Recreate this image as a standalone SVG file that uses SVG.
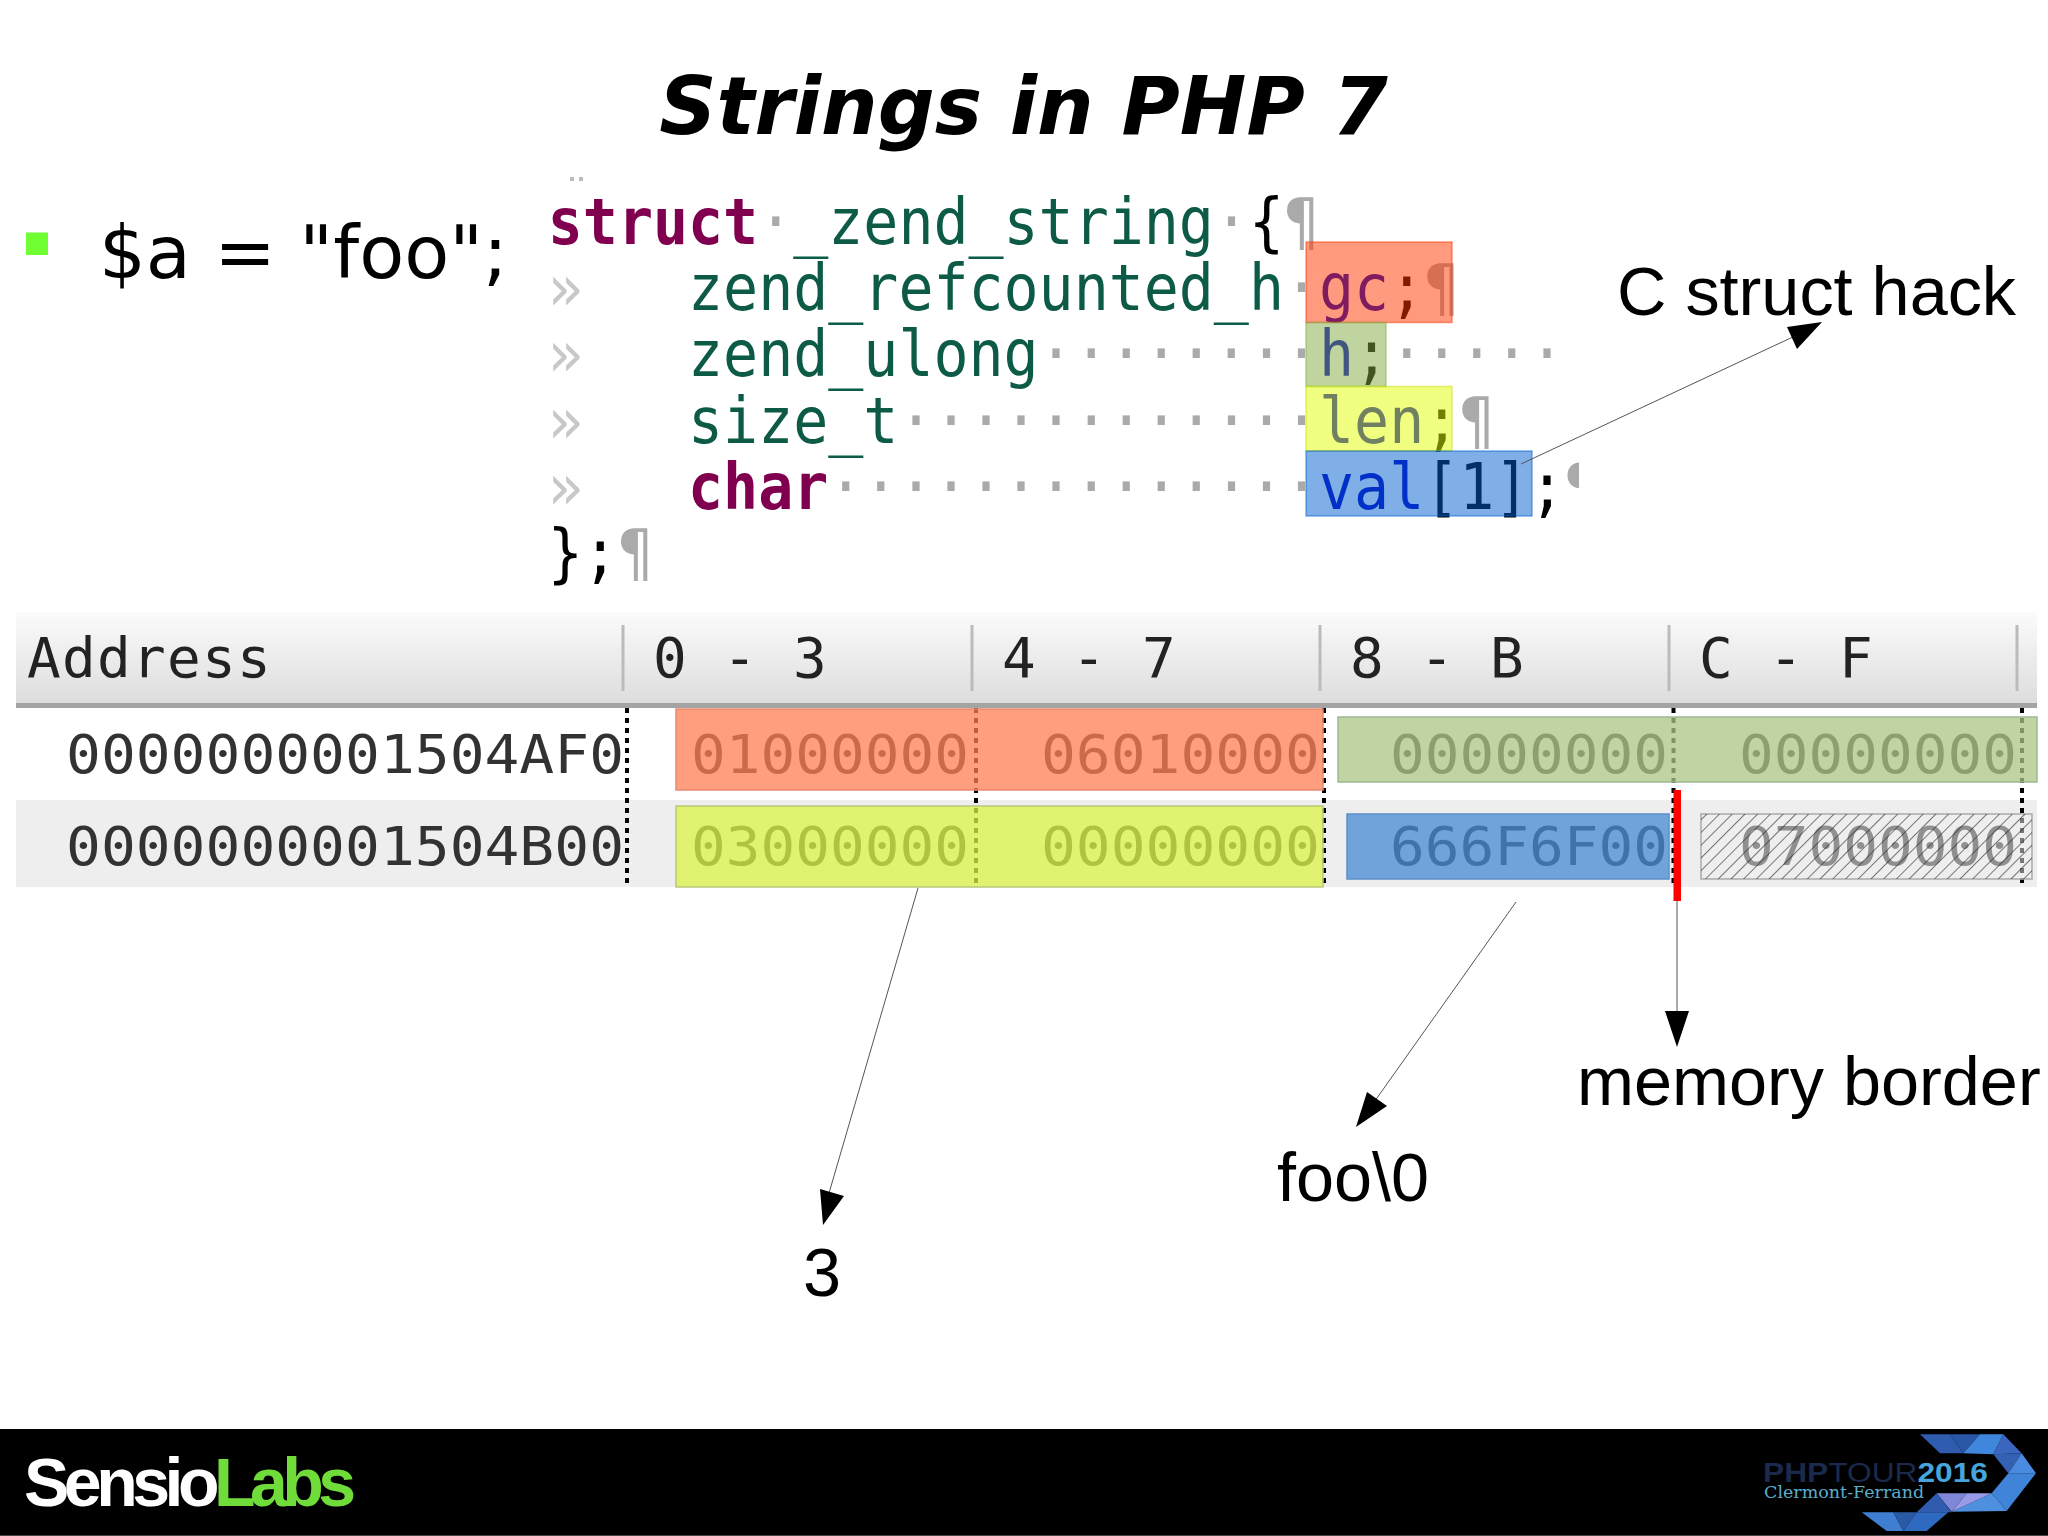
<svg xmlns="http://www.w3.org/2000/svg" width="2048" height="1536" viewBox="0 0 2048 1536">
<style>
.code{font-family:"DejaVu Sans Mono",monospace;font-size:64px;white-space:pre}
.kw{fill:#800050;font-weight:bold}.ty{fill:#0a5a46}.fl{fill:#0000c0}.bl{fill:#000}.ws{fill:#aaa}.mk{fill:#c8c8c8}
.hd{font-family:"DejaVu Sans Mono",monospace;font-size:56px;letter-spacing:1.3px;fill:#222;white-space:pre}
.addr{font-family:"DejaVu Sans Mono",monospace;font-size:54px;fill:#333}
.lab{font-family:"Liberation Sans",Arial,sans-serif;font-size:68.4px;fill:#000}
.sep{stroke:#bbb;stroke-width:3}
.dot{stroke:#000;stroke-width:4;stroke-dasharray:5 5}
.arr{stroke:#555;stroke-width:1;fill:none}
.head{fill:#000}
</style>
<defs>
<linearGradient id="hdr" x1="0" y1="0" x2="0" y2="1"><stop offset="0" stop-color="#fbfbfb"/><stop offset="1" stop-color="#dddddd"/></linearGradient>
<pattern id="hatch" width="9" height="9" patternUnits="userSpaceOnUse" patternTransform="rotate(45)"><line x1="0" y1="0" x2="0" y2="9" stroke="#222" stroke-width="1.2"/></pattern>
<clipPath id="cl"><rect x="500" y="160" width="1079" height="430"/></clipPath>
<filter id="soft" x="-2%" y="-2%" width="104%" height="104%"><feGaussianBlur stdDeviation="0.7"/></filter>
</defs>
<rect width="2048" height="1536" fill="#fff"/>
<text x="1023.5" y="134" text-anchor="middle" font-family="'DejaVu Sans',sans-serif" font-size="79.6" font-weight="bold" font-style="italic" fill="#000">Strings in PHP 7</text>
<g id="bullet">
<rect x="26" y="232.5" width="22" height="22.5" fill="#6fff33"/>
<text x="99" y="278" font-family="'DejaVu Sans',sans-serif" font-size="73.6" fill="#000">$a = "foo";</text>
</g>
<g id="code" clip-path="url(#cl)">
<g filter="url(#soft)">
<rect x="570" y="177" width="4" height="4" fill="#bbb"/><rect x="579" y="177" width="4" height="4" fill="#bbb"/>
<g transform="scale(0.91,1)">
<text class="code" x="602" y="244"><tspan class="kw">struct</tspan><tspan class="ws">·</tspan><tspan class="ty">_zend_string</tspan><tspan class="ws">·</tspan><tspan class="bl">{</tspan><tspan class="ws">¶</tspan></text>
<text class="code" x="602" y="310"><tspan class="mk">»   </tspan><tspan class="ty">zend_refcounted_h</tspan><tspan class="ws">·</tspan><tspan class="fl">gc</tspan><tspan class="bl">;</tspan><tspan class="ws">¶</tspan></text>
<text class="code" x="602" y="376"><tspan class="mk">»   </tspan><tspan class="ty">zend_ulong</tspan><tspan class="ws">········</tspan><tspan class="fl">h</tspan><tspan class="bl">;</tspan><tspan class="ws">·····</tspan></text>
<text class="code" x="602" y="443"><tspan class="mk">»   </tspan><tspan class="ty">size_t</tspan><tspan class="ws">············</tspan><tspan class="fl">len</tspan><tspan class="bl">;</tspan><tspan class="ws">¶</tspan></text>
<text class="code" x="602" y="509"><tspan class="mk">»   </tspan><tspan class="kw">char</tspan><tspan class="ws">··············</tspan><tspan class="fl">val</tspan><tspan class="bl">[1];</tspan><tspan class="ws">¶</tspan></text>
<text class="code" x="602" y="575"><tspan class="bl">};</tspan><tspan class="ws">¶</tspan></text>
</g>
</g>
</g>
<g id="code-highlights" fill-opacity="0.5" stroke-opacity="0.5" stroke-width="1.5">
<rect x="1306" y="242" width="146" height="80.5" fill="#ff3500" stroke="#ff3500"/>
<rect x="1306" y="322.5" width="80" height="64" fill="#81a941" stroke="#81a941"/>
<rect x="1306" y="386.5" width="146" height="64.5" fill="#e1ff00" stroke="#c8e000"/>
<rect x="1306" y="451" width="226" height="65" fill="#005fcd" stroke="#005fcd"/>
</g>
<g id="table">
<rect x="16" y="612" width="2021" height="91" fill="url(#hdr)"/>
<rect x="16" y="703" width="2021" height="5" fill="#a4a4a4"/>
<rect x="16" y="800" width="2021" height="87" fill="#eeeeee"/>
<line class="sep" x1="623" y1="625" x2="623" y2="691"/><line class="sep" x1="972" y1="625" x2="972" y2="691"/><line class="sep" x1="1320" y1="625" x2="1320" y2="691"/><line class="sep" x1="1669" y1="625" x2="1669" y2="691"/><line class="sep" x1="2017" y1="625" x2="2017" y2="691"/>
<g filter="url(#soft)">
<text class="hd" x="27" y="677">Address</text>
<text class="hd" x="653" y="677">0 - 3</text>
<text class="hd" x="1002" y="677">4 - 7</text>
<text class="hd" x="1350" y="677">8 - B</text>
<text class="hd" x="1699" y="677">C - F</text>
</g>
<line class="dot" x1="627" y1="708" x2="627" y2="887"/><line class="dot" x1="976" y1="708" x2="976" y2="887"/><line class="dot" x1="1324" y1="708" x2="1324" y2="887"/><line class="dot" x1="1673.5" y1="708" x2="1673.5" y2="887"/><line class="dot" x1="2022" y1="708" x2="2022" y2="887"/>
<g class="addr" filter="url(#soft)">
<text x="66" y="773" textLength="558" lengthAdjust="spacingAndGlyphs">0000000001504AF0</text>
<text x="66" y="865" textLength="558" lengthAdjust="spacingAndGlyphs">0000000001504B00</text>
<text x="691" y="773" textLength="278" lengthAdjust="spacingAndGlyphs">01000000</text>
<text x="1041" y="773" textLength="279" lengthAdjust="spacingAndGlyphs">06010000</text>
<text x="1390" y="773" textLength="278" lengthAdjust="spacingAndGlyphs">00000000</text>
<text x="1739" y="773" textLength="278" lengthAdjust="spacingAndGlyphs">00000000</text>
<text x="691" y="865" textLength="278" lengthAdjust="spacingAndGlyphs">03000000</text>
<text x="1041" y="865" textLength="279" lengthAdjust="spacingAndGlyphs">00000000</text>
<text x="1390" y="865" textLength="278" lengthAdjust="spacingAndGlyphs">666F6F00</text>
<text x="1739" y="865" textLength="278" lengthAdjust="spacingAndGlyphs">07000000</text>
</g>
<g id="table-highlights" fill-opacity="0.75" stroke-width="1.5">
<rect x="676" y="709" width="647" height="81" fill="#ff7d53" stroke="#e88a70"/>
<rect x="676" y="806" width="647" height="81" fill="#dcf347" stroke="#b8c878"/>
<rect x="1338" y="717" width="699" height="65" fill="#aac583" stroke="#a0b890"/>
<rect x="1347" y="814" width="322" height="65" fill="#4689d2" stroke="#5c90c8"/>
<rect x="1701" y="814" width="331" height="65" fill="#eeeeee" fill-opacity="0.5" stroke="#aaa"/>
<rect x="1701" y="814" width="331" height="65" fill="url(#hatch)" fill-opacity="1"/>
</g>
<rect id="memory-border" x="1673.5" y="790" width="7.5" height="111" fill="#f00"/>
</g>
<g id="connectors">
<line class="arr" x1="918" y1="888" x2="827" y2="1200"/><polygon class="head" points="823,1225 820,1189 844,1196"/>
<line class="arr" x1="1516" y1="902" x2="1372" y2="1105"/><polygon class="head" points="1356,1127 1367,1092 1387,1106"/>
<line class="arr" x1="1677" y1="901" x2="1677" y2="1020"/><polygon class="head" points="1677,1047 1665,1011 1689,1011"/>
<line class="arr" x1="1521" y1="464" x2="1795" y2="336"/><polygon class="head" points="1822,322 1797,349 1787,327"/>
</g>
<g id="label-hack"><text class="lab" x="1617" y="315">C struct hack</text></g>
<g id="label-border"><text class="lab" x="1577" y="1105">memory border</text></g>
<g id="label-foo"><text class="lab" x="1277" y="1201">foo\0</text></g>
<g id="label-3"><text class="lab" x="803" y="1296">3</text></g>
<g id="footer">
<rect x="0" y="1429" width="2048" height="106" fill="#000"/>
<rect x="0" y="1535" width="2048" height="1" fill="#444"/>
<text x="24" y="1506" font-family="'Liberation Sans',Arial,sans-serif" font-size="68" font-weight="bold" letter-spacing="-5.5" fill="#fff">Sensio<tspan fill="#6fdc3a">Labs</tspan></text>
<g id="logo" transform="translate(1860,1425) scale(0.3333)">
<polygon points="180,28 270,28 310,85 240,85" fill="#2f5cae"/>
<polygon points="270,28 360,28 310,85" fill="#2a56a6"/>
<polygon points="310,85 360,28 430,28 400,88" fill="#3f86dd"/>
<polygon points="430,28 485,85 400,88" fill="#3a66c0"/>
<polygon points="400,88 485,85 445,145" fill="#3561b5"/>
<polygon points="485,85 528,145 445,145" fill="#4a8ae0"/>
<polygon points="445,145 528,145 440,258 395,205" fill="#3f84d8"/>
<polygon points="395,205 440,258 275,260" fill="#4f8fe0"/>
<polygon points="275,260 320,205 395,205" fill="#9a9ae8"/>
<polygon points="230,205 320,205 275,260" fill="#7f88d8"/>
<polygon points="170,262 230,205 275,262" fill="#2f5cae"/>
<polygon points="5,262 100,262 130,318 80,318" fill="#3f7ed0"/>
<polygon points="100,262 170,262 130,318" fill="#2a5aa5"/>
<polygon points="170,262 265,262 200,318 130,318" fill="#2f6ac0"/>
</g>
<text x="1763" y="1482" font-family="'Liberation Sans',Arial,sans-serif" font-size="27" fill="#1b2a4c" textLength="225" lengthAdjust="spacingAndGlyphs"><tspan font-weight="bold">PHP</tspan>TOUR<tspan font-weight="bold" fill="#45a5dc">2016</tspan></text>
<text x="1764" y="1498" font-family="'DejaVu Serif','Liberation Serif',serif" font-size="17.5" fill="#5aaecc">Clermont-Ferrand</text>
</g>
</svg>
